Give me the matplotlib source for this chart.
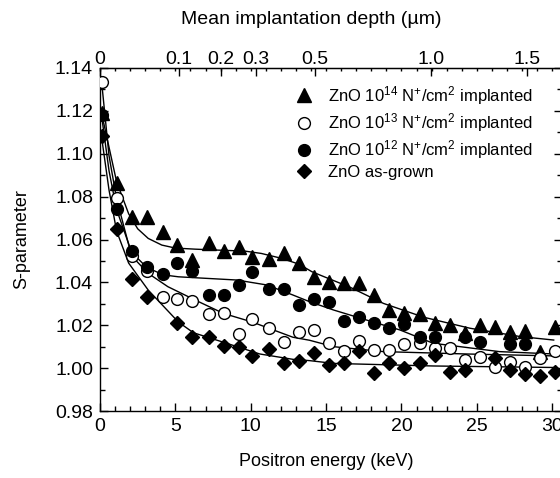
import numpy as np
import matplotlib
matplotlib.use("Agg")
import matplotlib.pyplot as plt
from matplotlib.ticker import MultipleLocator

plt.rcParams['font.family'] = ['Liberation Sans', 'DejaVu Sans']
plt.rcParams['mathtext.fontset'] = 'custom'
plt.rcParams['mathtext.rm'] = 'Liberation Sans'
plt.rcParams['mathtext.it'] = 'Liberation Sans:italic'
plt.rcParams['mathtext.bf'] = 'Liberation Sans:bold'

# ---------------- data ----------------
E_tri = [0.1, 1.1, 2.1, 3.1, 4.2, 5.1, 6.1, 7.2, 8.2, 9.2, 10.1, 11.2, 12.2, 13.2, 14.2, 15.2,
         16.2, 17.2, 18.2, 19.2, 20.2, 21.2, 22.2, 23.2, 24.2, 25.2, 26.2, 27.2, 28.2, 29.2, 30.2]
S_tri = [1.119, 1.0865, 1.0706, 1.0706, 1.0636, 1.0574, 1.0504, 1.0582, 1.0548, 1.0563, 1.0517,
         1.0508, 1.0535, 1.0489, 1.0426, 1.0403, 1.0398, 1.0395, 1.0341, 1.0271, 1.0255, 1.0251,
         1.0212, 1.0201, 1.0165, 1.0201, 1.0193, 1.0170, 1.0174, 1.0077, 1.0193]

E_open = [0.1, 1.1, 2.1, 3.1, 4.2, 5.1, 6.1, 7.2, 8.2, 9.2, 10.1, 11.2, 12.2, 13.2, 14.2, 15.2,
          16.2, 17.2, 18.2, 19.2, 20.2, 21.2, 22.2, 23.2, 24.2, 25.2, 26.2, 27.2, 28.2, 29.2, 30.2]
S_open = [1.1336, 1.0792, 1.0523, 1.0453, 1.0333, 1.0321, 1.0313, 1.0252, 1.0255, 1.0159, 1.0228,
          1.0186, 1.0123, 1.0167, 1.0178, 1.0116, 1.0081, 1.0126, 1.0085, 1.0085, 1.0113, 1.0116,
          1.0092, 1.0092, 1.0038, 1.0053, 1.0007, 1.0030, 1.0004, 1.0046, 1.0081]

E_fill = [0.1, 1.1, 2.1, 3.1, 4.2, 5.1, 6.1, 7.2, 8.2, 9.2, 10.1, 11.2, 12.2, 13.2, 14.2, 15.2,
          16.2, 17.2, 18.2, 19.2, 20.2, 21.2, 22.2, 24.2, 25.2, 27.2, 28.2]
S_fill = [1.118, 1.0741, 1.0546, 1.0473, 1.0438, 1.049, 1.0454, 1.0341, 1.0341, 1.0388, 1.0450,
          1.0367, 1.0367, 1.0296, 1.0321, 1.0310, 1.0221, 1.0237, 1.0209, 1.0186, 1.0206, 1.0147,
          1.0147, 1.0144, 1.0121, 1.0112, 1.0112]

E_dia = [0.1, 1.1, 2.1, 3.1, 5.1, 6.1, 7.2, 8.2, 9.2, 10.1, 11.2, 12.2, 13.2, 14.2, 15.2,
         16.2, 17.2, 18.2, 19.2, 20.2, 21.2, 22.2, 23.2, 24.2, 26.2, 27.2, 28.2, 29.2, 30.2]
S_dia = [1.1084, 1.0648, 1.0414, 1.0333, 1.0212, 1.0147, 1.0147, 1.0105, 1.0100, 1.0057, 1.0089,
         1.0025, 1.0035, 1.0069, 1.0015, 1.0025, 1.0081, 0.9976, 1.0025, 0.9999, 1.0022, 1.0061,
         0.9983, 0.9991, 1.0046, 0.9991, 0.9973, 0.9965, 0.9983]

# fitted curves
fitE_tri = [0.1, 0.6, 1.1, 1.9, 2.5, 3.2, 4.1, 5.0, 6.3, 8.0, 9.6, 10.7, 12.05, 13.2, 14.05,
            14.6, 16.6, 18.8, 21.5, 24.55, 27.9, 30.1]
fitS_tri = [1.119, 1.103, 1.087, 1.072, 1.065, 1.0605, 1.0574, 1.056, 1.0555, 1.055, 1.0546,
            1.0535, 1.0512, 1.0485, 1.0450, 1.0434, 1.0377, 1.0302, 1.0237, 1.0186, 1.0147, 1.0131]
fitE_open = [0.1, 0.6, 1.1, 2.1, 3.2, 4.5, 6.3, 8.2, 10.1, 12.8, 13.9, 15.5, 18.8, 24.3, 30.1]
fitS_open = [1.134, 1.099, 1.079, 1.0523, 1.0442, 1.038, 1.0318, 1.0255, 1.0215, 1.0144, 1.013,
             1.0100, 1.0077, 1.0066, 1.0057]
fitE_fill = [0.1, 0.6, 1.1, 2.1, 3.1, 4.2, 5.2, 7.0, 9.07, 11.06, 12.8, 13.9, 15.5, 17.7, 19.9,
             22.1, 26.5, 30.1]
fitS_fill = [1.118, 1.092, 1.074, 1.054, 1.047, 1.0435, 1.0426, 1.0419, 1.0411, 1.0388, 1.0341,
             1.031, 1.0271, 1.0224, 1.0178, 1.0116, 1.0077, 1.0066]
fitE_dia = [0.1, 0.6, 1.1, 1.9, 3.2, 5.2, 6.2, 8.4, 10.6, 12.8, 13.9, 15.5, 22.1, 30.1]
fitS_dia = [1.108, 1.083, 1.064, 1.049, 1.0364, 1.0215, 1.0165, 1.0116, 1.0066, 1.0041, 1.0035,
            1.0022, 1.001, 1.0003]

labels = [r'ZnO 10$^{14}$ N$^{+}$/cm$^{2}$ implanted',
          r'ZnO 10$^{13}$ N$^{+}$/cm$^{2}$ implanted',
          r'ZnO 10$^{12}$ N$^{+}$/cm$^{2}$ implanted',
          'ZnO as-grown']

x_ticks = [0, 5, 10, 15, 20, 25, 30]
y_ticks = [0.98, 1.00, 1.02, 1.04, 1.06, 1.08, 1.10, 1.12, 1.14]
depth_ticks = [0, 0.1, 0.2, 0.3, 0.5, 1.0, 1.5]
depth_labels = ['0', '0.1', '0.2', '0.3', '0.5', '1.0', '1.5']

# Makhov profile parameters for ZnO: z = (A/rho) E^n
A_par, rho, n_exp = 40.0, 5.61, 1.6

def e2z(E):
    E = np.asarray(E, dtype=float)
    return (A_par / rho) * np.sign(E) * np.abs(E) ** n_exp / 1000.0

def z2e(z):
    z = np.asarray(z, dtype=float)
    return np.sign(z) * (np.abs(z) * 1000.0 * rho / A_par) ** (1.0 / n_exp)

# ---------------- figure ----------------
W, H = 560, 478
fig = plt.figure(figsize=(W / 100, H / 100), dpi=100)
ax = fig.add_axes([100 / W, 67 / H, 462 / W, 343 / H])

lw = 1.0
for fe, fs in [(fitE_tri, fitS_tri), (fitE_open, fitS_open), (fitE_fill, fitS_fill), (fitE_dia, fitS_dia)]:
    ax.plot(fe, fs, color='black', lw=lw, zorder=2)

ax.plot(E_tri, S_tri, ls='none', marker='^', ms=9.5, mfc='black', mec='black', label=labels[0], zorder=3)
ax.plot(E_open, S_open, ls='none', marker='o', ms=8.5, mfc='white', mec='black', mew=1.0, label=labels[1], zorder=3)
ax.plot(E_fill, S_fill, ls='none', marker='o', ms=8.5, mfc='black', mec='black', label=labels[2], zorder=3)
ax.plot(E_dia, S_dia, ls='none', marker='D', ms=7.5, mfc='black', mec='black', label=labels[3], zorder=3)

ax.set_xlim(0, 30.65)
ax.set_ylim(0.98, 1.14)
ax.set_xticks(x_ticks)
ax.set_xticklabels([str(v) for v in x_ticks])
ax.set_yticks(y_ticks)
ax.set_yticklabels([f'{v:.2f}' for v in y_ticks])
ax.xaxis.set_minor_locator(MultipleLocator(1))
ax.yaxis.set_minor_locator(MultipleLocator(0.01))

ax.tick_params(axis='both', which='major', direction='in', length=6, width=1.0, labelsize=14, pad=5)
ax.tick_params(axis='both', which='minor', direction='in', length=3.5, width=1.0)
ax.tick_params(axis='y', which='both', right=True)
ax.tick_params(axis='x', which='both', top=True, labeltop=False)
for t in ax.xaxis.get_major_ticks():
    t.tick2line.set_markersize(2)
for t in ax.xaxis.get_minor_ticks():
    t.tick2line.set_markersize(2)

for s in ax.spines.values():
    s.set_linewidth(1.0)

ax.set_xlabel('Positron energy (keV)', fontsize=13)
ax.xaxis.set_label_coords((326 - 100) / 462, -(453 - 411) / 343)
ax.set_ylabel('S-parameter', fontsize=13)
ax.yaxis.set_label_coords(-70 / 462, 0.5)

sec = ax.secondary_xaxis('top', functions=(e2z, z2e))
sec.set_xticks(depth_ticks)
sec.set_xticklabels(depth_labels)
sec.tick_params(axis='x', which='major', direction='in', length=6, width=1.0, labelsize=14, pad=0)
fig.text(311 / W, 1 - 19 / H, 'Mean implantation depth (\u00b5m)', fontsize=14,
         ha='center', va='center')

leg = ax.legend(loc='upper left', bbox_to_anchor=((296 - 100) / 462, (411 - 84) / 343),
                frameon=False, fontsize=12, handlelength=1.0, handletextpad=0.9,
                labelspacing=0.25, borderaxespad=0, borderpad=0)

fig.savefig('out.png', dpi=100)
